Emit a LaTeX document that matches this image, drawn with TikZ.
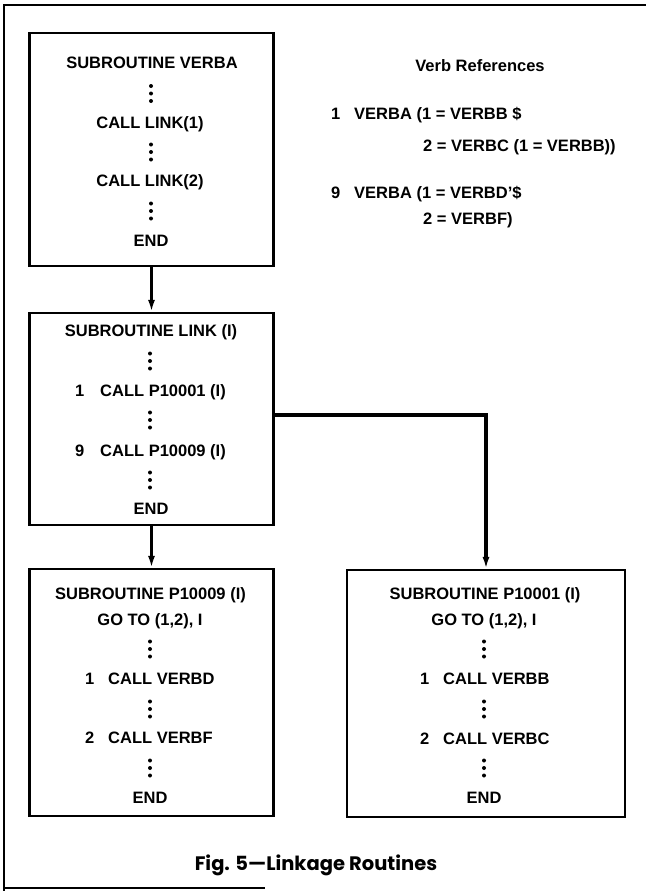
\documentclass[tikz,border=0pt]{standalone}
\usepackage{fontspec}
\setmainfont{Liberation Sans}
\newfontfamily\capfont{Poppins}
\usetikzlibrary{arrows.meta, positioning}

\begin{document}
\begin{tikzpicture}[x=1pt, y=-1pt, >={Latex[length=12pt, width=7pt]},
  box/.style={draw, line width=2.2pt, inner sep=0pt},
  ln/.style={inner sep=0pt, font=\fontsize{16.5}{19}\selectfont\bfseries,
    text height=12pt, text depth=0pt},
  call/.style={->, line width=3.2pt},
  frame/.style={line width=2pt}]
  \useasboundingbox (0,0) rectangle (646,891);

  % outer frame
  \draw[frame] (4,891) -- (4,5) -- (646,5);
  \draw[frame] (4,888) -- (265,888);

  % the four routines
  \node[box, minimum width=244, minimum height=233] (verba) at (151.5,149.5) {};
  \node[box, minimum width=244, minimum height=212] (link) at (151.5,419) {};
  \node[box, minimum width=244, minimum height=247] (pnine) at (151.5,692.5) {};
  \node[box, minimum width=278, minimum height=247] (pone) at (486,693.5) {};

  % SUBROUTINE VERBA
  \node[ln] (vaHead) at (152,63) {SUBROUTINE VERBA};
  \node[ln] (vaCallA) at (150,122) {CALL LINK(1)};
  \node[ln] (vaCallB) at (150,180) {CALL LINK(2)};
  \node[ln] (vaEnd) at (151,240) {END};
  \foreach \y in {93.5, 152, 211} {
    \foreach \d in {-7.5, 0, 7.5}
      \fill (151, \y+\d) circle (2pt);
  }

  % verb references
  \node[ln] (refHead) at (480,65) {Verb References};
  \node[ln, anchor=west] (refNumA) at (331,113) {1};
  \node[ln, anchor=west] (refA) at (354,113) {VERBA (1 = VERBB \$};
  \node[ln, anchor=west] (refAcont) at (423,145) {2 = VERBC (1 = VERBB))};
  \node[ln, anchor=west] (refNumB) at (331,192) {9};
  \node[ln, anchor=west] (refB) at (354,192) {VERBA (1 = VERBD'\$};
  \node[ln, anchor=west] (refBcont) at (423,218) {2 = VERBF)};

  % SUBROUTINE LINK
  \node[ln] (lkHead) at (151,330) {SUBROUTINE LINK (I)};
  \node[ln, anchor=west] (lkNumA) at (75,390) {1};
  \node[ln, anchor=west] (lkCallA) at (100,390) {CALL P10001 (I)};
  \node[ln, anchor=west] (lkNumB) at (75,450) {9};
  \node[ln, anchor=west] (lkCallB) at (100,450) {CALL P10009 (I)};
  \node[ln] (lkEnd) at (151,508) {END};
  \foreach \y in {361, 420, 480} {
    \foreach \d in {-7.5, 0, 7.5}
      \fill (150, \y+\d) circle (2pt);
  }

  % SUBROUTINE P10009
  \node[ln] (pnHead) at (150.5,593) {SUBROUTINE P10009 (I)};
  \node[ln] (pnGoto) at (150,619) {GO TO (1,2), I};
  \node[ln, anchor=west] (pnNumA) at (85,678) {1};
  \node[ln, anchor=west] (pnCallA) at (108,678) {CALL VERBD};
  \node[ln, anchor=west] (pnNumB) at (85,737) {2};
  \node[ln, anchor=west] (pnCallB) at (108,737) {CALL VERBF};
  \node[ln] (pnEnd) at (150,797) {END};
  \foreach \y in {649, 709, 768} {
    \foreach \d in {-7.5, 0, 7.5}
      \fill (150, \y+\d) circle (2pt);
  }

  % SUBROUTINE P10001
  \node[ln] (poHead) at (485,593) {SUBROUTINE P10001 (I)};
  \node[ln] (poGoto) at (484,619) {GO TO (1,2), I};
  \node[ln, anchor=west] (poNumA) at (420,678) {1};
  \node[ln, anchor=west] (poCallA) at (443,678) {CALL VERBB};
  \node[ln, anchor=west] (poNumB) at (420,738) {2};
  \node[ln, anchor=west] (poCallB) at (443,738) {CALL VERBC};
  \node[ln] (poEnd) at (484,797) {END};
  \foreach \y in {649, 709, 768} {
    \foreach \d in {-7.5, 0, 7.5}
      \fill (484, \y+\d) circle (2pt);
  }

  % linkage
  \draw[call] (verba.south) -- (link.north);
  \draw[call] (link.south) -- (pnine.north);
  \draw[call] ([yshift=4pt]link.east) -| (pone.north);

  \node[font=\capfont\bfseries\fontsize{19.5}{22}\selectfont] (caption) at (316,865)
    {Fig. 5\textemdash Linkage Routines};
\end{tikzpicture}
\end{document}
